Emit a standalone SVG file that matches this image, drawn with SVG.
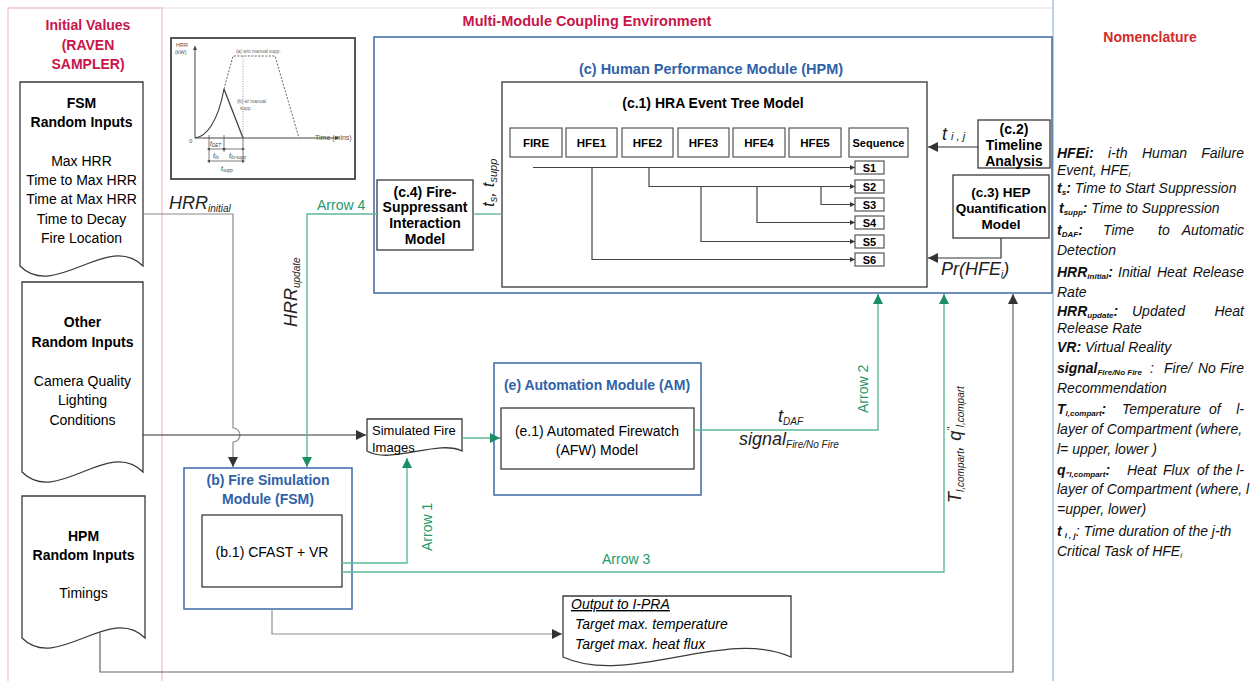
<svg xmlns="http://www.w3.org/2000/svg" width="1252" height="681" viewBox="0 0 1252 681">
<defs>
<style>
.t{font-family:"Liberation Sans",Arial,sans-serif;}
.b{font-weight:bold;}
.i{font-style:italic;}
.box{fill:#fff;stroke:#3a3a3a;stroke-width:1.3;}
.cb{fill:#fff;stroke:#555;stroke-width:1.2;}
.mod{fill:none;stroke:#4672ad;stroke-width:1.6;}
.bt{fill:#2f62a8;font-weight:bold;}
.crim{fill:#c8154a;font-weight:bold;}
.gl{fill:none;stroke:#5fb898;stroke-width:1.4;}
.gt{fill:#23996b;}
.dl{fill:none;stroke:#333;stroke-width:1.2;}
.el{fill:none;stroke:#444;stroke-width:1.2;}
</style>
<marker id="ad" viewBox="0 0 10 10" refX="10" refY="5" markerWidth="11" markerHeight="10" markerUnits="userSpaceOnUse" orient="auto"><path d="M0,0 L10,5 L0,10 z" fill="#333"/></marker>
<marker id="ag" viewBox="0 0 10 10" refX="10" refY="5" markerWidth="11" markerHeight="10" markerUnits="userSpaceOnUse" orient="auto"><path d="M0,0 L10,5 L0,10 z" fill="#1a8f62"/></marker>
<marker id="as" viewBox="0 0 10 10" refX="10" refY="5" markerWidth="5" markerHeight="5" markerUnits="userSpaceOnUse" orient="auto"><path d="M0,0 L10,5 L0,10 z" fill="#333"/></marker>
<marker id="ax" viewBox="0 0 10 10" refX="10" refY="5" markerWidth="5" markerHeight="4" markerUnits="userSpaceOnUse" orient="auto"><path d="M0,0 L10,5 L0,10 z" fill="#444"/></marker>
<marker id="ax2" viewBox="0 0 10 10" refX="0" refY="5" markerWidth="4" markerHeight="3" markerUnits="userSpaceOnUse" orient="auto-start-reverse"><path d="M0,0 L10,5 L0,10 z" fill="#444"/></marker>
</defs>
<rect width="1252" height="681" fill="#fff"/>

<g id="panels" fill="none">
<path d="M8,690 V8 H162 V690" stroke="#f1c3c3" stroke-width="1.3"/>
<path d="M162,8 H1053" stroke="#ecdcdc" stroke-width="1.2"/>
<line x1="1053" y1="0" x2="1053" y2="681" stroke="#a6bcd9" stroke-width="1.4"/>
</g>

<g id="titles" class="t">
<text class="crim" font-size="14" x="88" y="30" text-anchor="middle">Initial Values</text>
<text class="crim" font-size="14" x="88" y="50" text-anchor="middle">(RAVEN</text>
<text class="crim" font-size="14" x="88" y="69" text-anchor="middle">SAMPLER)</text>
<text class="crim" font-size="14.5" x="587" y="26" text-anchor="middle">Multi-Module Coupling Environment</text>
<text font-size="14" font-weight="bold" fill="#d42a2a" x="1150" y="42" text-anchor="middle">Nomenclature</text>
</g>

<g id="fsm-inputs" class="t">
<path class="box" d="M20,82 H143 V266 C108,231 55,301 20,266 Z"/>
<text class="b" font-size="14" x="81.5" y="108" text-anchor="middle">FSM</text>
<text class="b" font-size="14" x="81.5" y="127" text-anchor="middle">Random Inputs</text>
<g font-size="14" text-anchor="middle">
<text x="81.5" y="166">Max HRR</text>
<text x="81.5" y="185">Time to Max HRR</text>
<text x="81.5" y="204">Time at Max HRR</text>
<text x="81.5" y="224">Time to Decay</text>
<text x="81.5" y="243">Fire Location</text>
</g>
</g>

<g id="other-inputs" class="t">
<path class="box" d="M22,282 H143 V472 C108,437 57,507 22,472 Z"/>
<text class="b" font-size="14" x="82.5" y="327" text-anchor="middle">Other</text>
<text class="b" font-size="14" x="82.5" y="347" text-anchor="middle">Random Inputs</text>
<g font-size="14" text-anchor="middle">
<text x="82.5" y="386">Camera Quality</text>
<text x="82.5" y="405">Lighting</text>
<text x="82.5" y="425">Conditions</text>
</g>
</g>

<g id="hpm-inputs" class="t">
<path class="box" d="M22,496 H145 V638 C110,603 57,673 22,638 Z"/>
<text class="b" font-size="14" x="83.5" y="541" text-anchor="middle">HPM</text>
<text class="b" font-size="14" x="83.5" y="560" text-anchor="middle">Random Inputs</text>
<text font-size="14" x="83.5" y="598" text-anchor="middle">Timings</text>
</g>

<g id="hrr-graph" class="t">
<rect x="171" y="38" width="184" height="141" fill="#fff" stroke="#444" stroke-width="1.8"/>
<line x1="195" y1="138" x2="195" y2="46" stroke="#444" stroke-width="1" marker-end="url(#ax)"/>
<line x1="195" y1="138" x2="339" y2="138" stroke="#444" stroke-width="1" marker-end="url(#ax)"/>
<text x="176" y="47" font-size="5.5" fill="#555">HRR</text>
<text x="175" y="54" font-size="5.5" fill="#555">(kW)</text>
<text x="189" y="143" font-size="6" fill="#555">0</text>
<text x="315" y="140" font-size="7" fill="#555">Time (mins)</text>
<path d="M195,138 C206,137 218,122 224,89" fill="none" stroke="#444" stroke-width="1.2"/>
<path d="M224,89 L243,138" fill="none" stroke="#444" stroke-width="1.3"/>
<path d="M224,89 L233,56 H275 L299,138" fill="none" stroke="#555" stroke-width="0.9" stroke-dasharray="2,1.5"/>
<path d="M243,56 V138" fill="none" stroke="#777" stroke-width="0.7" stroke-dasharray="1,1.5"/>
<text x="236" y="53" font-size="4.8" fill="#666">(a) w/o manual supp.</text>
<text x="237" y="103" font-size="4.8" fill="#666">(b) w/ manual</text>
<text x="240" y="110" font-size="4.8" fill="#666">supp.</text>
<g stroke="#444" stroke-width="0.7">
<line x1="209" y1="135" x2="209" y2="163"/>
<line x1="224" y1="135" x2="224" y2="152"/>
<line x1="243" y1="138" x2="243" y2="163"/>
<line x1="210" y1="149" x2="223" y2="149" marker-start="url(#ax2)" marker-end="url(#ax2)"/>
<line x1="225" y1="149" x2="242" y2="149" marker-start="url(#ax2)" marker-end="url(#ax2)"/>
<line x1="210" y1="161" x2="242" y2="161" marker-start="url(#ax2)" marker-end="url(#ax2)"/>
</g>
<text x="210" y="146" font-size="7" class="i" fill="#444">t<tspan font-size="4.5" dy="1">DET</tspan></text>
<text x="213" y="158" font-size="7" class="i" fill="#444">t<tspan font-size="4.5" dy="1">fo</tspan></text>
<text x="229" y="158" font-size="7" class="i" fill="#444">t<tspan font-size="4.5" dy="1">fo-supp</tspan></text>
<text x="221" y="171" font-size="7" class="i" fill="#444">t<tspan font-size="4.5" dy="1">supp</tspan></text>
</g>

<g id="hpm" class="t">
<rect class="mod" x="374" y="37" width="678" height="256"/>
<text class="bt" font-size="14.5" x="711" y="74" text-anchor="middle">(c) Human Performance Module (HPM)</text>
</g>

<g id="hra-event-tree" class="t">
<rect x="502" y="82" width="425" height="205" fill="#fff" stroke="#444" stroke-width="1.4"/>
<text class="b" font-size="14" x="713" y="108" text-anchor="middle">(c.1) HRA Event Tree Model</text>
<g font-size="11.5" font-weight="bold" text-anchor="middle">
<rect class="cb" x="510" y="128" width="52" height="29"/><text x="536" y="147">FIRE</text>
<rect class="cb" x="566" y="128" width="51" height="29"/><text x="591.5" y="147">HFE1</text>
<rect class="cb" x="622" y="128" width="51" height="29"/><text x="647.5" y="147">HFE2</text>
<rect class="cb" x="678" y="128" width="51" height="29"/><text x="703.5" y="147">HFE3</text>
<rect class="cb" x="733" y="128" width="52" height="29"/><text x="759" y="147">HFE4</text>
<rect class="cb" x="789" y="128" width="52" height="29"/><text x="815" y="147">HFE5</text>
<rect class="cb" x="849" y="128" width="59" height="29"/><text x="878.5" y="147" font-size="11">Sequence</text>
</g>
<g class="el">
<path d="M533,167.5 H855" marker-end="url(#as)"/>
<path d="M592,167.5 V259.5 H855" marker-end="url(#as)"/>
<path d="M649,167.5 V186.5 H855" marker-end="url(#as)"/>
<path d="M701,186.5 V241.5 H855" marker-end="url(#as)"/>
<path d="M757,186.5 V222.5 H855" marker-end="url(#as)"/>
<path d="M821,186.5 V204.5 H855" marker-end="url(#as)"/>
</g>
<g font-size="11" font-weight="bold" text-anchor="middle">
<rect class="cb" x="855" y="161" width="29" height="13"/><text x="869.5" y="171.5">S1</text>
<rect class="cb" x="855" y="180" width="29" height="13"/><text x="869.5" y="190.5">S2</text>
<rect class="cb" x="855" y="198" width="29" height="13"/><text x="869.5" y="208.5">S3</text>
<rect class="cb" x="855" y="216" width="29" height="13"/><text x="869.5" y="226.5">S4</text>
<rect class="cb" x="855" y="235" width="29" height="13"/><text x="869.5" y="245.5">S5</text>
<rect class="cb" x="855" y="253" width="29" height="13"/><text x="869.5" y="263.5">S6</text>
</g>
</g>

<g id="timeline" class="t">
<rect class="box" x="978" y="120" width="72" height="48"/>
<g class="b" font-size="14" text-anchor="middle">
<text x="1014" y="134">(c.2)</text>
<text x="1014" y="150">Timeline</text>
<text x="1014" y="166">Analysis</text>
</g>
</g>

<g id="hep" class="t">
<rect class="box" x="953" y="175" width="96" height="63"/>
<g class="b" font-size="13.5" text-anchor="middle">
<text x="1001" y="197">(c.3) HEP</text>
<text x="1001" y="213">Quantification</text>
<text x="1001" y="229">Model</text>
</g>
</g>

<g id="fire-suppressant" class="t">
<rect class="box" x="377" y="180" width="96" height="70"/>
<g class="b" font-size="14" text-anchor="middle">
<text x="425" y="197">(c.4) Fire-</text>
<text x="425" y="212">Suppressant</text>
<text x="425" y="228">Interaction</text>
<text x="425" y="244">Model</text>
</g>
</g>

<g id="automation" class="t">
<rect class="mod" x="494" y="363" width="207" height="132"/>
<text class="bt" font-size="14" x="597" y="390" text-anchor="middle">(e) Automation Module (AM)</text>
<rect class="box" x="501" y="408" width="193" height="61"/>
<text font-size="14" x="597" y="436" text-anchor="middle">(e.1) Automated Firewatch</text>
<text font-size="14" x="597" y="455" text-anchor="middle">(AFW) Model</text>
</g>

<g id="fire-sim" class="t">
<rect class="mod" x="184" y="468" width="168" height="141"/>
<text class="bt" font-size="14" x="268" y="485" text-anchor="middle">(b) Fire Simulation</text>
<text class="bt" font-size="14" x="268" y="504" text-anchor="middle">Module (FSM)</text>
<rect class="box" x="202" y="515" width="140" height="72"/>
<text font-size="14" x="272" y="557" text-anchor="middle">(b.1) CFAST + VR</text>
</g>

<g id="sim-images" class="t">
<path class="box" d="M367,419 H462 V451 C438,439 391,465 367,451 Z"/>
<text font-size="13" x="372" y="435">Simulated Fire</text>
<text font-size="13" x="372" y="452">Images</text>
</g>

<g id="output" class="t">
<path class="box" d="M563,596 H791 V657 C725,627 628,687 563,657 Z"/>
<text font-size="14" class="i" x="571" y="609" text-decoration="underline">Output to I-PRA</text>
<text font-size="14" class="i" x="575" y="629">Target max. temperature</text>
<text font-size="14" class="i" x="575" y="649">Target max. heat flux</text>
</g>

<g id="connectors">
<path d="M143,214 H233 V428 A7,7 0 0 1 233,442 V467" fill="none" stroke="#8a8a8a" stroke-width="1.2" marker-end="url(#ad)"/>
<path d="M143,435 H366" class="dl" stroke="#222" marker-end="url(#ad)"/>
<path d="M272,609 V634 H562" fill="none" stroke="#8f8f8f" stroke-width="1.2" marker-end="url(#ad)"/>
<path d="M100,632 V672 H1013 V294" fill="none" stroke="#666" stroke-width="1.2" marker-end="url(#ad)"/>
<path d="M978,147 H928" class="dl" marker-end="url(#ad)"/>
<path d="M1001,238 V258 H928" class="dl" marker-end="url(#ad)"/>
<path d="M502,214 H473" class="gl"/>
<path d="M377,214 H307 V467" class="gl" marker-end="url(#ag)"/>
<path d="M342,563 H407 V458" class="gl" marker-end="url(#ag)"/>
<path d="M342,572 H944 V294" class="gl" marker-end="url(#ag)"/>
<path d="M694,430 H878 V294" class="gl" marker-end="url(#ag)"/>
<path d="M462,438 H500" class="gl" marker-end="url(#ag)"/>
</g>

<g id="connector-labels" class="t">
<text class="i" font-size="18" x="169" y="209" fill="#222">HRR<tspan font-size="10" dy="3">initial</tspan></text>
<text class="i" font-size="18" transform="translate(297,327) rotate(-90)" fill="#222">HRR<tspan font-size="10" dy="3">update</tspan></text>
<text class="i" font-size="17" transform="translate(494,207) rotate(-90)" fill="#222">t<tspan font-size="11" dy="3">s</tspan><tspan dy="-3">, t</tspan><tspan font-size="11" dy="3">supp</tspan></text>
<text class="gt" font-size="14" x="317" y="210">Arrow 4</text>
<text class="gt" font-size="14" transform="translate(432,551) rotate(-90)">Arrow 1</text>
<text class="gt" font-size="14" transform="translate(868,413) rotate(-90)">Arrow 2</text>
<text class="gt" font-size="14" x="602" y="564">Arrow 3</text>
<text class="i" font-size="18" x="778" y="422" fill="#222">t<tspan font-size="10" dy="3">DAF</tspan></text>
<text class="i" font-size="18" x="739" y="445" fill="#222">signal<tspan font-size="10" dy="3">Fire/No Fire</tspan></text>
<text class="i" font-size="18" transform="translate(961,503) rotate(-90)" fill="#222">T<tspan font-size="10" dy="3">l,compart</tspan><tspan dy="-3">, q</tspan><tspan font-size="10" dy="-6">"</tspan><tspan font-size="10" dy="9">l,compart</tspan></text>
<text class="i" font-size="18" x="942" y="140" fill="#222">t<tspan font-size="11" dx="4">i , j</tspan></text>
<text class="i" font-size="18" x="941" y="275" fill="#222">Pr(HFE<tspan font-size="10" dy="3">i</tspan><tspan dy="-3">)</tspan></text>
</g>

<g id="nomenclature" class="t i" font-size="14" fill="#111">
<text x="1057" y="158" class="b">HFEi:</text>
<text x="1108" y="158">i-th</text>
<text x="1142" y="158">Human</text>
<text x="1244" y="158" text-anchor="end">Failure</text>
<text x="1057" y="175">Event, HFE<tspan font-size="8" dy="2">i</tspan></text>
<text x="1057" y="193"><tspan class="b">t</tspan><tspan class="b" font-size="8" dy="2">s</tspan><tspan class="b" dy="-2">:</tspan> Time to Start  Suppression</text>
<text x="1059" y="213"><tspan class="b">t</tspan><tspan class="b" font-size="8" dy="2">supp</tspan><tspan class="b" dy="-2">:</tspan> Time to Suppression</text>
<text x="1057" y="235"><tspan class="b">t</tspan><tspan class="b" font-size="8" dy="2">DAF</tspan><tspan class="b" dy="-2">:</tspan></text>
<text x="1103" y="235">Time</text>
<text x="1158" y="235">to</text>
<text x="1244" y="235" text-anchor="end">Automatic</text>
<text x="1057" y="255">Detection</text>
<text x="1057" y="277"><tspan class="b">HRR</tspan><tspan class="b" font-size="8" dy="2">initial</tspan><tspan class="b" dy="-2">:</tspan></text>
<text x="1118" y="277">Initial</text>
<text x="1157" y="277">Heat</text>
<text x="1244" y="277" text-anchor="end">Release</text>
<text x="1057" y="297">Rate</text>
<text x="1057" y="316"><tspan class="b">HRR</tspan><tspan class="b" font-size="8" dy="2">update</tspan><tspan class="b" dy="-2">:</tspan></text>
<text x="1132" y="316">Updated</text>
<text x="1244" y="316" text-anchor="end">Heat</text>
<text x="1057" y="333">Release Rate</text>
<text x="1057" y="352"><tspan class="b">VR:</tspan> Virtual Reality</text>
<text x="1057" y="373"><tspan class="b">signal</tspan><tspan class="b" font-size="8" dy="2">Fire/No Fire</tspan></text>
<text x="1150" y="373">:</text>
<text x="1164" y="373">Fire/</text>
<text x="1198" y="373">No</text>
<text x="1244" y="373" text-anchor="end">Fire</text>
<text x="1057" y="393">Recommendation</text>
<text x="1057" y="414"><tspan class="b">T</tspan><tspan class="b" font-size="8" dy="2">l,compart</tspan><tspan class="b" dy="-2">:</tspan></text>
<text x="1122" y="414">Temperature</text>
<text x="1209" y="414">of</text>
<text x="1244" y="414" text-anchor="end">l-</text>
<text x="1057" y="434">layer of  Compartment (where,</text>
<text x="1057" y="454">l= upper, lower )</text>
<text x="1057" y="475"><tspan class="b">q</tspan><tspan class="b" font-size="8" dy="2">"l,compart</tspan><tspan class="b" dy="-2">:</tspan></text>
<text x="1127" y="475">Heat</text>
<text x="1163" y="475">Flux</text>
<text x="1197" y="475">of</text>
<text x="1213" y="475">the</text>
<text x="1244" y="475" text-anchor="end">l-</text>
<text x="1057" y="494">layer of Compartment (where, l</text>
<text x="1057" y="514">=upper, lower)</text>
<text x="1057" y="536"><tspan class="b">t</tspan><tspan class="b" font-size="8" dx="3" dy="2">i , j</tspan><tspan dy="-2">: Time duration of the j-th</tspan></text>
<text x="1057" y="556">Critical Task of HFE<tspan font-size="8" dy="2">i</tspan></text>
</g>
</svg>
